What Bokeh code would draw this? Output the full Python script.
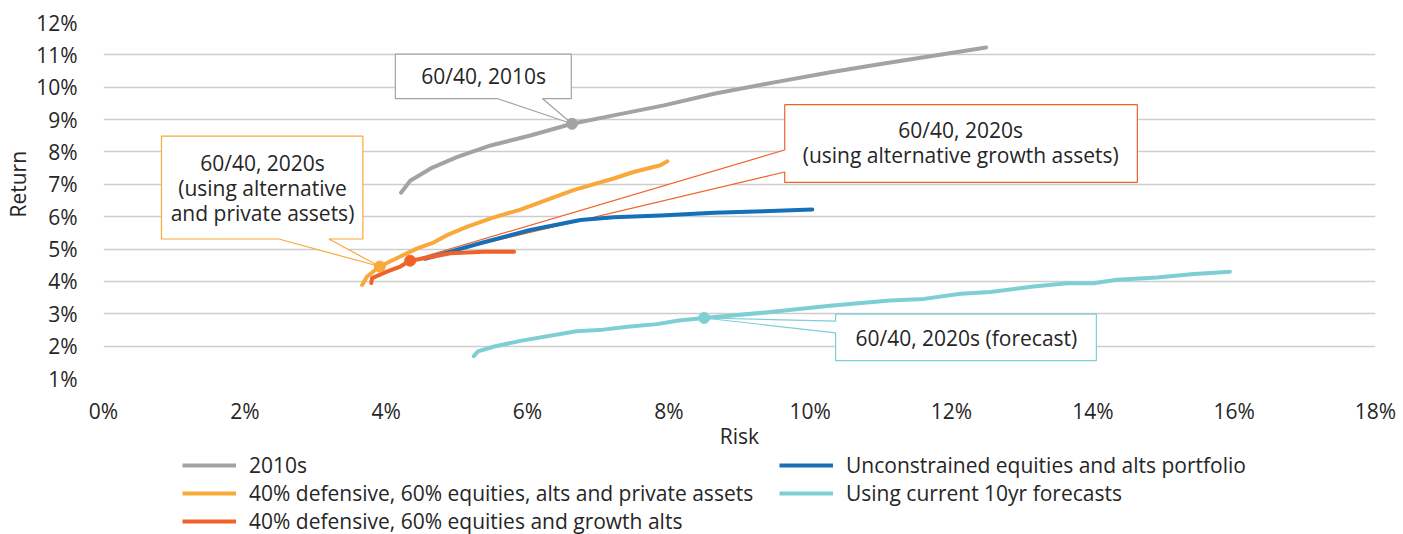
import math
from bokeh.plotting import figure
from bokeh.layouts import column
from bokeh.models import (Range1d, FixedTicker, PrintfTickFormatter, Legend,
                          LegendItem, Label, Title)
from bokeh.embed import file_html
from bokeh.resources import INLINE

# ---------------- data ----------------
x_ticks = [0, 2, 4, 6, 8, 10, 12, 14, 16, 18]
y_ticks = [1, 2, 3, 4, 5, 6, 7, 8, 9, 10, 11, 12]

names = ["2010s",
         "40% defensive, 60% equities, alts and private assets",
         "40% defensive, 60% equities and growth alts",
         "Unconstrained equities and alts portfolio",
         "Using current 10yr forecasts"]

gray_x = [4.21, 4.34, 4.63, 5.00, 5.48, 6.04, 6.63, 7.22, 7.93, 8.64, 9.49, 10.29, 11.00, 12.49]
gray_y = [6.74, 7.11, 7.49, 7.84, 8.20, 8.51, 8.87, 9.13, 9.44, 9.80, 10.15, 10.46, 10.72, 11.23]

orange_x = [3.66, 3.73, 3.91, 4.20, 4.44, 4.67, 4.86, 5.15, 5.48, 5.90, 6.14, 6.65, 7.22, 7.50, 7.88, 7.98]
orange_y = [3.89, 4.15, 4.46, 4.77, 5.02, 5.20, 5.43, 5.69, 5.95, 6.22, 6.41, 6.82, 7.18, 7.38, 7.59, 7.71]

red_x = [3.79, 3.80, 4.01, 4.20, 4.34, 4.67, 4.91, 5.38, 5.81]
red_y = [3.95, 4.10, 4.30, 4.46, 4.64, 4.77, 4.87, 4.92, 4.92]

blue_x = [4.55, 4.67, 5.33, 6.04, 6.75, 7.22, 7.88, 8.64, 9.34, 10.03]
blue_y = [4.70, 4.77, 5.18, 5.59, 5.90, 5.98, 6.04, 6.12, 6.17, 6.22]

teal_x = [5.24, 5.30, 5.53, 5.92, 6.69, 7.07, 7.45, 7.83, 8.14, 8.50, 9.37, 10.28, 11.13,
          11.61, 12.13, 12.55, 13.16, 13.64, 14.01, 14.34, 14.91, 15.43, 15.94]
teal_y = [1.69, 1.84, 1.99, 2.17, 2.46, 2.51, 2.61, 2.68, 2.79, 2.87, 3.04, 3.25, 3.41,
          3.46, 3.62, 3.67, 3.84, 3.94, 3.94, 4.05, 4.12, 4.23, 4.30]

series_x = [gray_x, orange_x, red_x, blue_x, teal_x]
series_y = [gray_y, orange_y, red_y, blue_y, teal_y]

# highlighted 60/40 points
hl_gray = (6.63, 8.87)
hl_orange = (3.91, 4.46)
hl_red = (4.34, 4.64)
hl_teal = (8.50, 2.87)

callout_gray_text = ["60/40, 2010s"]
callout_orange_text = ["60/40, 2020s", "(using alternative", "and private assets)"]
callout_red_text = ["60/40, 2020s", "(using alternative growth assets)"]
callout_teal_text = ["60/40, 2020s (forecast)"]

# ---------------- style ----------------
FONT = "Open Sans"
FS = "21px"
TXT = "#262626"
C_GRAY = "#a3a3a5"
C_ORANGE = "#f8a93a"
C_RED = "#f0622a"
C_BLUE = "#1670b8"
C_TEAL = "#7ecfd3"
colors = [C_GRAY, C_ORANGE, C_RED, C_BLUE, C_TEAL]

W = 1400
H_MAIN = 452
H_LEG = 82

p = figure(width=W, height=H_MAIN, output_backend="svg", toolbar_location=None,
           x_range=Range1d(0, 18), y_range=Range1d(1, 12),
           min_border_left=103, min_border_right=W - 1375, min_border_top=22,
           min_border_bottom=H_MAIN - 379)
p.frame_align = False
p.background_fill_color = "white"
p.border_fill_color = "white"
p.outline_line_color = None
p.xgrid.visible = False
p.ygrid.grid_line_color = "#cdcdcd"
p.ygrid.grid_line_width = 1.4

p.xaxis.ticker = FixedTicker(ticks=x_ticks)
p.yaxis.ticker = FixedTicker(ticks=y_ticks)
for ax in (p.xaxis[0], p.yaxis[0]):
    ax.formatter = PrintfTickFormatter(format="%d%%")
    ax.axis_line_color = None
    ax.major_tick_line_color = None
    ax.minor_tick_line_color = None
    ax.major_tick_out = 0
    ax.major_tick_in = 0
    ax.major_label_text_font = FONT
    ax.major_label_text_font_size = FS
    ax.major_label_text_color = TXT
    ax.axis_label_text_font = FONT
    ax.axis_label_text_font_size = FS
    ax.axis_label_text_font_style = "normal"
    ax.axis_label_text_color = TXT
p.xaxis.major_label_standoff = 18
p.yaxis.major_label_standoff = 26
p.xaxis.axis_label = "Risk"
p.xaxis.axis_label_standoff = -6

p.add_layout(Title(text="Return", align="left", offset=161, vertical_align="middle",
                   standoff=2, text_font=FONT, text_font_size=FS,
                   text_font_style="normal", text_color=TXT), "left")


# ---------------- callouts ----------------
def callout_bottom(x0, x1, y0, y1, wl, wr, tip, color):
    xs = [x0, x1, x1, wr, tip[0], wl, x0]
    ys = [y1, y1, y0, y0, tip[1], y0, y0]
    p.patch(xs, ys, fill_color="white", line_color=color, line_width=1.2)


def callout_left(x0, x1, y0, y1, wlo, whi, tip, color):
    xs = [x0, x1, x1, x0, x0, tip[0], x0]
    ys = [y1, y1, y0, y0, wlo, tip[1], whi]
    p.patch(xs, ys, fill_color="white", line_color=color, line_width=1.2)


def texts(lines, x, ys):
    for t, yy in zip(lines, ys):
        p.add_layout(Label(x=x, y=yy, text=t, text_align="center", text_baseline="middle",
                           text_font=FONT, text_font_size=FS, text_color=TXT))


callout_bottom(4.13, 6.62, 9.65, 11.02, 5.57, 6.21, hl_gray, C_GRAY)
callout_bottom(0.82, 3.67, 5.31, 8.49, 2.48, 3.19, hl_orange, C_ORANGE)
callout_left(9.64, 14.63, 7.06, 9.46, 7.38, 8.06, hl_red, C_RED)
callout_left(10.36, 14.05, 1.55, 2.99, 2.41, 2.77, hl_teal, C_TEAL)

texts(callout_gray_text, 5.38, [10.34])
texts(callout_orange_text, 2.25, [7.66, 6.89, 6.12])
texts(callout_red_text, 12.13, [8.67, 7.90])
texts(callout_teal_text, 12.21, [2.26])

# ---------------- series ----------------
kw = dict(line_width=4, line_cap="round", line_join="round")
draw_order = [0, 3, 1, 2, 4]   # gray, blue, orange, red, teal
for i in draw_order:
    p.line(series_x[i], series_y[i], color=colors[i], **kw)

for pt, c in ((hl_gray, C_GRAY), (hl_orange, C_ORANGE), (hl_red, C_RED), (hl_teal, C_TEAL)):
    p.scatter([pt[0]], [pt[1]], size=11, color=c)

# ---------------- legend (separate strip below the chart) ----------------
pl = figure(width=W, height=H_LEG, output_backend="svg", toolbar_location=None,
            x_range=Range1d(0, 1), y_range=Range1d(-1, 0),
            x_axis_type=None, y_axis_type=None,
            min_border_left=0, min_border_right=0, min_border_top=0, min_border_bottom=0)
pl.frame_align = False
pl.outline_line_color = None
pl.xgrid.visible = False
pl.ygrid.visible = False
pl.background_fill_color = "white"
pl.border_fill_color = "white"

# same series drawn off-screen in the legend strip, only to supply the legend swatches
leg_rends = [pl.line(series_x[i], series_y[i], color=colors[i], line_width=4)
             for i in range(5)]
legend = Legend(items=[LegendItem(label=n, renderers=[r]) for n, r in zip(names, leg_rends)],
                location=(182, -1), orientation="vertical", ncols=2,
                padding=0, margin=0, spacing=0,
                border_line_color=None, background_fill_alpha=0,
                label_text_font=FONT, label_text_font_size=FS, label_text_color=TXT,
                glyph_width=54, glyph_height=20, label_height=20, label_standoff=13,
                label_width=530)
pl.add_layout(legend, "center")

layout = column(p, pl, spacing=0)
open("out.html", "w").write(file_html(layout, INLINE))
